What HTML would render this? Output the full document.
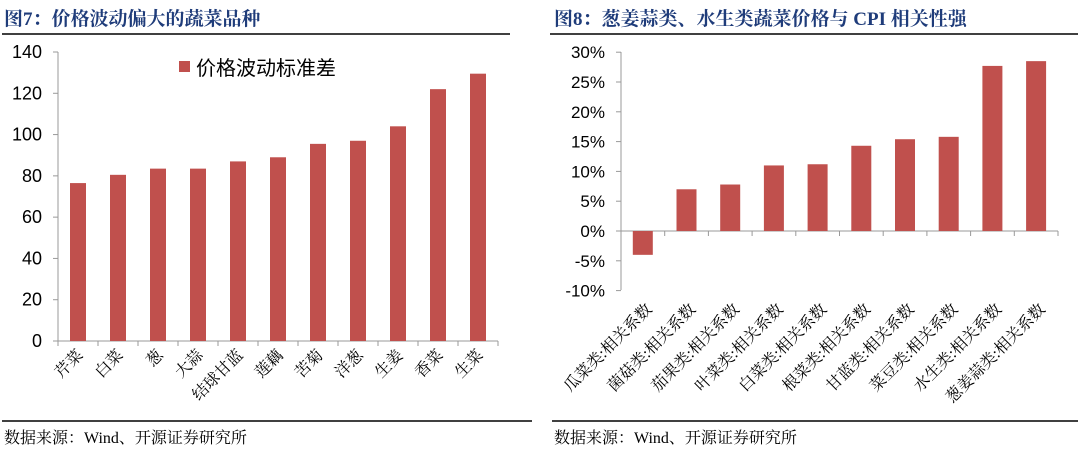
<!DOCTYPE html>
<html><head><meta charset="utf-8"><style>
html,body{margin:0;padding:0;background:#fff;}
svg{display:block;}
.t{font-family:"Liberation Serif","Noto Serif CJK SC",serif;font-weight:bold;fill:#1f3c7a;font-size:19px;}
.ax{font-family:"Liberation Sans","Noto Sans CJK SC",sans-serif;font-size:17px;fill:#000;}
.cat{font-family:"Liberation Serif","Noto Serif CJK SC",serif;font-size:16px;fill:#000;}
.src{font-family:"Liberation Serif","Noto Serif CJK SC",serif;font-size:16px;fill:#000;}
</style></head><body>
<svg width="1080" height="450" viewBox="0 0 1080 450" xmlns="http://www.w3.org/2000/svg">
<text class="t" x="4" y="25">图7：价格波动偏大的蔬菜品种</text>
<line x1="2" y1="34" x2="510" y2="34" stroke="#000" stroke-width="1.5"/>
<g stroke="#999" stroke-width="1">
<line x1="58" y1="52" x2="58" y2="341"/>
<line x1="58" y1="341" x2="498" y2="341"/>
</g>
<g id="lt"></g>
<text x="196" y="75" style="font-family:'Liberation Sans','Noto Sans CJK SC',sans-serif;font-size:20px">价格波动标准差</text>
<rect x="179" y="61" width="11" height="11" fill="#c0504d"/>
<text class="t" x="554" y="25">图8：葱姜蒜类、水生类蔬菜价格与 CPI 相关性强</text>
<line x1="550" y1="34" x2="1078" y2="34" stroke="#000" stroke-width="1.5"/>
<g stroke="#999" stroke-width="1">
<line x1="621" y1="52" x2="621" y2="290"/>
<line x1="621" y1="231" x2="1058" y2="231"/>
</g>
<line x1="2" y1="421" x2="532" y2="421" stroke="#000" stroke-width="1.5"/>
<line x1="552" y1="421" x2="1078" y2="421" stroke="#000" stroke-width="1.5"/>
<text class="src" x="4" y="443">数据来源：Wind、开源证券研究所</text>
<text class="src" x="554" y="443">数据来源：Wind、开源证券研究所</text>
<g id="rt"></g>
<script>
var ns="http://www.w3.org/2000/svg";
function el(p,n,a,txt){var e=document.createElementNS(ns,n);for(var k in a)e.setAttribute(k,a[k]);if(txt!==undefined)e.textContent=txt;p.appendChild(e);return e;}
var L=document.getElementById('lt');
for(var v=0;v<=140;v+=20){var y=341-v*289/140;el(L,'line',{x1:53,y1:y,x2:58,y2:y,stroke:'#999'});el(L,'text',{x:42,y:y+6,'text-anchor':'end','class':'ax',style:'font-size:18px'},v);}
var lv=[76.5,80.5,83.5,83.5,87,89,95.5,97,104,122,129.5];
var ln=['芹菜','白菜','葱','大蒜','结球甘蓝','莲藕','苦菊','洋葱','生姜','香菜','生菜'];
for(var i=0;i<=11;i++){var x=58+40*i;el(L,'line',{x1:x,y1:341,x2:x,y2:346,stroke:'#999'});}
for(var i=0;i<11;i++){var cx=78+40*i;var h=lv[i]*289/140;el(L,'rect',{x:cx-8,y:341-h,width:16,height:h,fill:'#c0504d'});
el(L,'text',{x:cx+6,y:356,'text-anchor':'end','class':'cat',transform:'rotate(-45 '+(cx+6)+' 356)'},ln[i]);}
var R=document.getElementById('rt');
for(var v=-10;v<=30;v+=5){var y=231-v*29.8/5;el(R,'line',{x1:616,y1:y,x2:621,y2:y,stroke:'#999'});el(R,'text',{x:605,y:y+6,'text-anchor':'end','class':'ax'},v+'%');}
var rv=[-4,7,7.8,11,11.2,14.3,15.4,15.8,27.7,28.5];
var rn=['瓜菜类:相关系数','菌菇类:相关系数','茄果类:相关系数','叶菜类:相关系数','白菜类:相关系数','根菜类:相关系数','甘蓝类:相关系数','菜豆类:相关系数','水生类:相关系数','葱姜蒜类:相关系数'];
for(var i=0;i<=10;i++){var x=621+43.7*i;el(R,'line',{x1:x,y1:231,x2:x,y2:236,stroke:'#999'});}
for(var i=0;i<10;i++){var cx=642.8+43.7*i;var h=rv[i]*29.8/5;
el(R,'rect',{x:cx-10,y:h>=0?231-h:231,width:20,height:Math.abs(h),fill:'#c0504d'});
el(R,'text',{x:cx+10,y:310,'text-anchor':'end','class':'cat',transform:'rotate(-45 '+(cx+10)+' 310)'},rn[i]);}
</script>
</svg>
</body></html>
